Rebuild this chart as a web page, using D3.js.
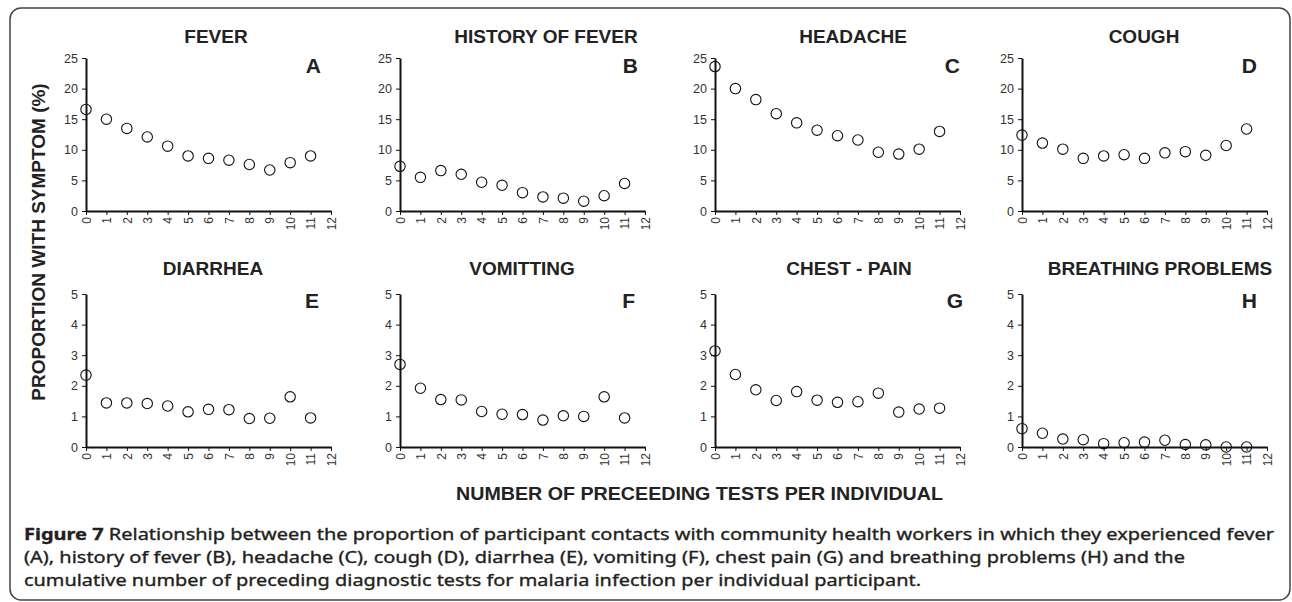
<!DOCTYPE html>
<html>
<head>
	<title></title>
	<script src="https://d3js.org/d3.v7.min.js"></script>
	<style>
		body { margin: 0; background: #fff; }
		svg { font-family: "Liberation Sans", Arial, sans-serif; }
		.axis .domain { stroke: #111; stroke-width: 2; }
		.axis line { stroke: #111; stroke-width: 1; }
		.axis text { fill: #333; font-size: 12.5px; }
		.title { font-weight: bold; font-size: 19px; fill: #222; text-anchor: middle; }
		.letter { font-weight: bold; font-size: 21px; fill: #222; text-anchor: end; }
		.caption { font-family: "Noto Sans", "Open Sans", sans-serif; font-size: 16.8px; fill: #231f20; stroke: #231f20; stroke-width: 0.35; }
	</style>
</head>
<body>
	<svg width="1292" height="602"></svg>
<script type="text/javascript">

	// number of preceding tests (x categories)
	const preceding = [0, 1, 2, 3, 4, 5, 6, 7, 8, 9, 10, 11];
	const xTicks = [0, 1, 2, 3, 4, 5, 6, 7, 8, 9, 10, 11, 12];
	const topTicks = [0, 5, 10, 15, 20, 25];
	const bottomTicks = [0, 1, 2, 3, 4, 5];

	// % with symptom
	const fever          = [16.6, 15.0, 13.5, 12.1, 10.6, 9.0, 8.6, 8.3, 7.6, 6.7, 7.9, 9.0];
	const historyOfFever = [7.3, 5.5, 6.6, 6.0, 4.7, 4.2, 3.0, 2.3, 2.1, 1.6, 2.5, 4.5];
	const headache       = [23.6, 20.0, 18.2, 15.9, 14.4, 13.2, 12.3, 11.6, 9.6, 9.3, 10.1, 13.0];
	const cough          = [12.4, 11.1, 10.1, 8.6, 9.0, 9.2, 8.6, 9.5, 9.7, 9.1, 10.7, 13.4];
	const diarrhea       = [2.35, 1.44, 1.44, 1.42, 1.34, 1.15, 1.23, 1.22, 0.93, 0.94, 1.64, 0.95];
	const vomiting       = [2.70, 1.92, 1.55, 1.54, 1.16, 1.07, 1.06, 0.88, 1.02, 1.00, 1.64, 0.95];
	const chestPain      = [3.14, 2.37, 1.87, 1.52, 1.81, 1.53, 1.46, 1.48, 1.76, 1.14, 1.24, 1.27];
	const breathing      = [0.60, 0.45, 0.26, 0.24, 0.11, 0.14, 0.16, 0.22, 0.08, 0.07, 0.0, 0.0];

	const titles = ["FEVER", "HISTORY OF FEVER", "HEADACHE", "COUGH",
	                "DIARRHEA", "VOMITTING", "CHEST - PAIN", "BREATHING PROBLEMS"];
	const letters = ["A", "B", "C", "D", "E", "F", "G", "H"];
	const series = [fever, historyOfFever, headache, cough, diarrhea, vomiting, chestPain, breathing];

	// layout (pixels)
	const colX = [86, 400, 715, 1022];
	const rowY = [{top: 58, bottom: 211, title: 43, letter: 73},
	              {top: 294, bottom: 447, title: 275, letter: 308}];
	const plotW = 245;
	const titleDx = [130, 146, 138, 122, 127, 122, 134, 138];
	const letterDx = [235, 238, 245, 235, 233, 235, 248, 235];

	var svg = d3.select("svg");

	svg.append("rect")
		.attr("x", 10).attr("y", 8)
		.attr("width", 1280).attr("height", 592)
		.attr("rx", 11)
		.attr("fill", "none")
		.attr("stroke", "#444")
		.attr("stroke-width", 1.5);

	series.forEach(function (vals, i) {
		var row = Math.floor(i / 4), col = i % 4;
		var r = rowY[row];
		var ticks = row == 0 ? topTicks : bottomTicks;

		var x = d3.scaleLinear().domain([0, 12]).range([0, plotW]);
		var y = d3.scaleLinear().domain([0, d3.max(ticks)]).range([r.bottom - r.top, 0]);

		var g = svg.append("g").attr("transform", "translate(" + colX[col] + "," + r.top + ")");

		g.append("g")
			.selectAll("circle")
			.data(preceding)
			.enter().append("circle")
			.attr("cx", function (d) { return x(d); })
			.attr("cy", function (d, j) { return y(vals[j]); })
			.attr("r", 5.2)
			.attr("fill", "none")
			.attr("stroke", "#111")
			.attr("stroke-width", 1.1);

		g.append("g")
			.attr("class", "axis")
			.call(d3.axisLeft(y).tickValues(ticks).tickFormat(d3.format("d"))
				.tickSize(4).tickSizeOuter(0).tickPadding(4));

		var xa = g.append("g")
			.attr("class", "axis")
			.attr("transform", "translate(0," + (r.bottom - r.top) + ")")
			.call(d3.axisBottom(x).tickValues(xTicks).tickFormat(d3.format("d"))
				.tickSize(4).tickSizeOuter(0));
		xa.selectAll("text")
			.attr("y", 0)
			.attr("x", -6)
			.attr("dy", "0.35em")
			.attr("transform", "rotate(-90)")
			.style("text-anchor", "end")
			.style("font-size", "12px");

		svg.append("text")
			.attr("class", "title")
			.attr("x", colX[col] + titleDx[i])
			.attr("y", r.title)
			.text(titles[i]);

		svg.append("text")
			.attr("class", "letter")
			.attr("x", colX[col] + letterDx[i])
			.attr("y", r.letter)
			.text(letters[i]);
	});

	// axis titles
	svg.append("text")
		.attr("transform", "translate(45,242) rotate(-90)")
		.attr("text-anchor", "middle")
		.attr("font-weight", "bold")
		.attr("font-size", 19)
		.attr("fill", "#222")
		.text("PROPORTION WITH SYMPTOM (%)");

	svg.append("text")
		.attr("x", 456)
		.attr("y", 500)
		.attr("font-weight", "bold")
		.attr("font-size", 19)
		.attr("fill", "#222")
		.attr("textLength", 487)
		.attr("lengthAdjust", "spacingAndGlyphs")
		.text("NUMBER OF PRECEEDING TESTS PER INDIVIDUAL");

	// caption
	var capLines = [
		{y: 540, w: 1250, bold: "Figure 7", rest: " Relationship between the proportion of participant contacts with community health workers in which they experienced fever"},
		{y: 563, w: 1161, bold: "", rest: "(A), history of fever (B), headache (C), cough (D), diarrhea (E), vomiting (F), chest pain (G) and breathing problems (H) and the"},
		{y: 586, w: 897, bold: "", rest: "cumulative number of preceding diagnostic tests for malaria infection per individual participant."}
	];
	capLines.forEach(function (c) {
		var t = svg.append("text")
			.attr("class", "caption")
			.attr("x", 24)
			.attr("y", c.y)
			.attr("textLength", c.w)
			.attr("lengthAdjust", "spacingAndGlyphs");
		if (c.bold) t.append("tspan").attr("font-weight", "bold").text(c.bold);
		t.append("tspan").text(c.rest);
	});

</script>
</body>
</html>
